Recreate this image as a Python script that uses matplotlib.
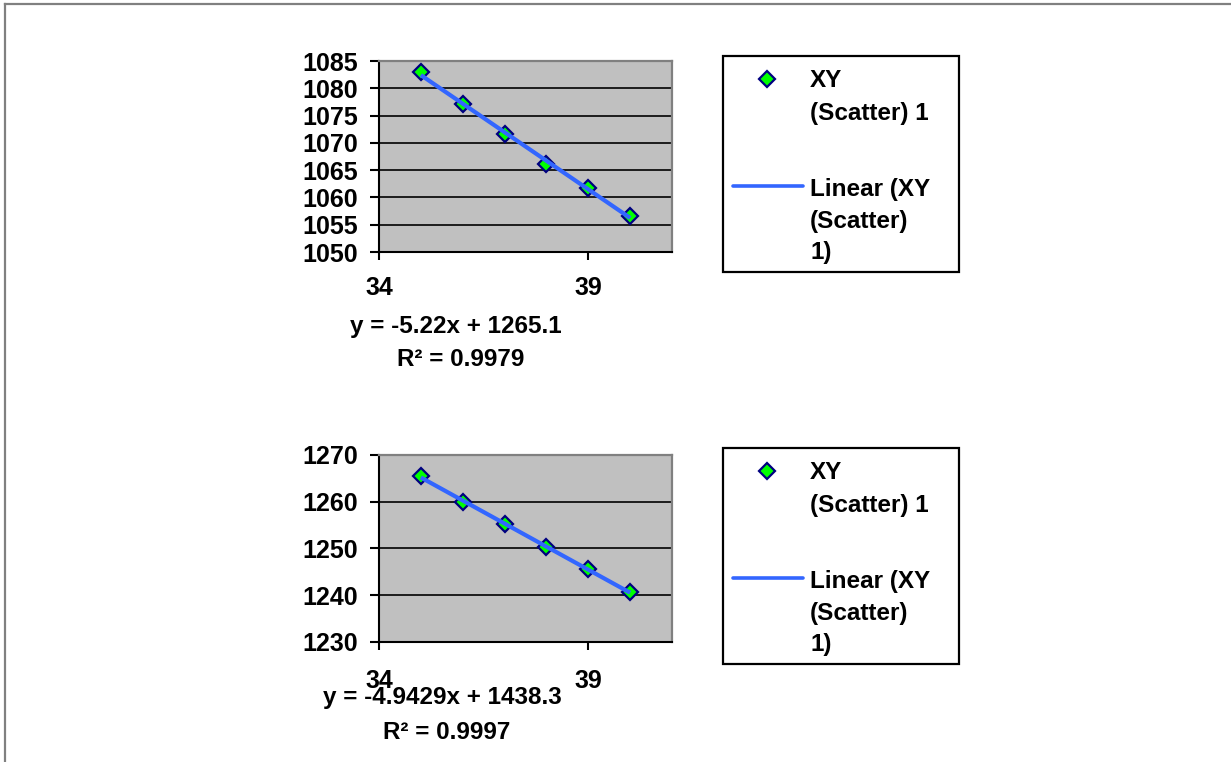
import numpy as np
import matplotlib
matplotlib.use('Agg')
import matplotlib.pyplot as plt
from matplotlib.lines import Line2D
from matplotlib.patches import Rectangle

# ---------------- data ----------------
x_values = [35, 36, 37, 38, 39, 40]
top_y = [1082.9, 1077.1, 1071.6, 1066.1, 1061.7, 1056.6]
bottom_y = [1265.5, 1260.0, 1255.2, 1250.3, 1245.6, 1240.6]
top_yticks = [1050, 1055, 1060, 1065, 1070, 1075, 1080, 1085]
bottom_yticks = [1230, 1240, 1250, 1260, 1270]
x_ticks = [34, 39]
x_limits = (34, 41)
top_equation = "y = -5.22x + 1265.1"
top_r2 = "R\u00b2 = 0.9979"
bottom_equation = "y = -4.9429x + 1438.3"
bottom_r2 = "R\u00b2 = 0.9997"
legend_scatter = ["XY", "(Scatter) 1"]
legend_trend = ["Linear (XY", "(Scatter)", "1)"]

# ---------------- style ----------------
plt.rcParams['font.family'] = ['Liberation Sans', 'DejaVu Sans']
plt.rcParams['font.weight'] = 'bold'
FS = 17.5
FS_TICK = 18
W, H = 1231, 762
MARK = dict(marker='D', markersize=8.3, markerfacecolor='#00FF00',
            markeredgecolor='#000080', markeredgewidth=1.6, linestyle='none')
LINE_C = '#3366FF'

fig = plt.figure(figsize=(W / 100, H / 100), dpi=100)


def fx(px):
    return px / W


def fy(py):
    return 1 - py / H


def make_panel(top_px, bottom_px, yvals, yticks, eq, r2, eq_y, r2_y, eq_x, r2_x, xpad):
    ax = fig.add_axes([fx(379), fy(bottom_px), fx(672) - fx(379), fy(top_px) - fy(bottom_px)])
    ax.set_facecolor('#C0C0C0')
    ax.set_xlim(*x_limits)
    ax.set_ylim(yticks[0], yticks[-1])
    ax.set_xticks(x_ticks)
    ax.set_yticks(yticks)
    ax.set_xticklabels([str(t) for t in x_ticks])
    ax.set_yticklabels([str(t) for t in yticks])
    ax.tick_params(axis='both', direction='out', width=1.5, labelsize=FS_TICK, color='black')
    ax.tick_params(axis='y', length=6.5, pad=8.5)
    ax.tick_params(axis='x', length=6, pad=xpad)
    for lab in ax.get_xticklabels() + ax.get_yticklabels():
        lab.set_fontweight('bold')
    ax.set_axisbelow(True)
    ax.yaxis.grid(True, color='black', linewidth=1.2)
    ax.xaxis.grid(False)
    for side in ('top', 'right'):
        ax.spines[side].set_color('#808080')
        ax.spines[side].set_linewidth(1.6)
    for side in ('left', 'bottom'):
        ax.spines[side].set_color('black')
        ax.spines[side].set_linewidth(1.5)

    ax.plot(x_values, yvals, zorder=3, **MARK)
    coef = np.polyfit(x_values, yvals, 1)
    xs = np.array([x_values[0], x_values[-1]])
    ax.plot(xs, np.polyval(coef, xs), color=LINE_C, linewidth=3, zorder=4,
            solid_capstyle='butt')

    fig.text(fx(eq_x), fy(eq_y), eq, ha='center', va='baseline', fontsize=FS, fontweight='bold')
    fig.text(fx(r2_x), fy(r2_y), r2, ha='center', va='baseline', fontsize=FS, fontweight='bold')
    return ax


def make_legend(top_px):
    off = top_px - 56
    fig.add_artist(Rectangle((fx(723), fy(272 + off)), fx(959) - fx(723), fy(56) - fy(272),
                             transform=fig.transFigure, facecolor='white',
                             edgecolor='black', linewidth=1.6, zorder=1))
    fig.add_artist(Line2D([fx(767)], [fy(79 + off)], transform=fig.transFigure, zorder=2, **MARK))
    fig.add_artist(Line2D([fx(733), fx(803)], [fy(186 + off)] * 2, transform=fig.transFigure,
                          color=LINE_C, linewidth=2.6, zorder=2, solid_capstyle='round'))
    for txt, base in zip(legend_scatter, [87, 120]):
        fig.text(fx(810), fy(base + off), txt, ha='left', va='baseline', fontsize=FS,
                 fontweight='bold', zorder=3)
    for txt, base in zip(legend_trend, [196, 228, 259]):
        fig.text(fx(810), fy(base + off), txt, ha='left', va='baseline', fontsize=FS,
                 fontweight='bold', zorder=3)


make_panel(61, 252, top_y, top_yticks, top_equation, top_r2, 333, 366, 456, 461, 11.5)
make_panel(455, 642, bottom_y, bottom_yticks, bottom_equation, bottom_r2, 704, 739, 442, 447, 13.5)
make_legend(56)
make_legend(448)

# outer frame (top and left edges visible)
fig.add_artist(Line2D([fx(5), 1], [fy(4), fy(4)], transform=fig.transFigure,
                      color='#808080', linewidth=1.6))
fig.add_artist(Line2D([fx(5), fx(5)], [fy(4), 0], transform=fig.transFigure,
                      color='#808080', linewidth=1.6))

fig.savefig('out.png', dpi=100)
